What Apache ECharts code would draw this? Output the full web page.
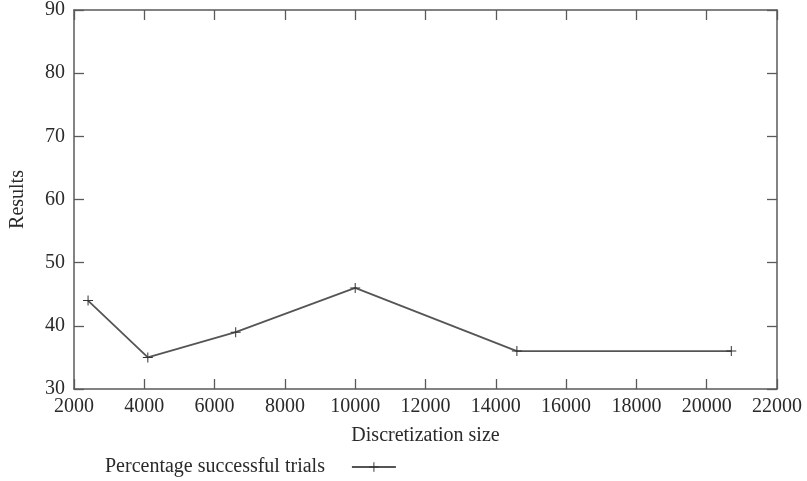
<!DOCTYPE html>
<html>
<head>
<meta charset="utf-8">
<script src="https://cdn.jsdelivr.net/npm/echarts@6/dist/echarts.min.js"></script>
<style>
html,body{margin:0;padding:0;background:#fff;}
#c{width:807px;height:481px;}
</style>
</head>
<body>
<div id="c"></div>
<script>
const seriesName = 'Percentage successful trials';
const xValues = [2400, 4100, 6600, 10000, 14600, 20700];
const yValues = [44, 35, 39, 46, 36, 36];
const xTitle = 'Discretization size';
const yTitle = 'Results';

const data = xValues.map((x, i) => [x, yValues[i]]);
const FONT = '"Liberation Serif", "DejaVu Serif", serif';
const AX = '#5a5a5a';
const TXT = '#2a2a2a';
const plus = 'path://M4.5,0H5.5V4.5H10V5.5H5.5V10H4.5V5.5H0V4.5H4.5Z';

const chart = echarts.init(document.getElementById('c'), null, {renderer: 'canvas'});
const baseX = {
  type: 'value', min: 2000, max: 22000, interval: 2000,
  axisLine: {show: true, onZero: false, lineStyle: {color: AX, width: 1.5}},
  axisTick: {show: true, inside: true, length: 10, lineStyle: {color: AX, width: 1.3}},
  splitLine: {show: false}
};
const baseY = {
  type: 'value', min: 30, max: 90, interval: 10,
  axisLine: {show: true, onZero: false, lineStyle: {color: AX, width: 1.5}},
  axisTick: {show: true, inside: true, length: 10, lineStyle: {color: AX, width: 1.3}},
  splitLine: {show: false}
};
chart.setOption({
  animation: false,
  backgroundColor: '#fff',
  grid: {left: 70, right: 30, top: 9, bottom: 92, containLabel: false},
  xAxis: [
    Object.assign({}, baseX, {
      position: 'bottom',
      name: xTitle, nameLocation: 'middle', nameGap: 37,
      nameTextStyle: {fontFamily: FONT, fontSize: 20, color: TXT},
      axisLabel: {show: true, margin: 8, fontFamily: FONT, fontSize: 20, color: TXT,
        formatter: v => String(v)}
    }),
    Object.assign({}, baseX, {position: 'top', axisLabel: {show: false}})
  ],
  yAxis: [
    Object.assign({}, baseY, {
      position: 'left',
      name: yTitle, nameLocation: 'middle', nameGap: 46, nameRotate: 90,
      nameTextStyle: {fontFamily: FONT, fontSize: 20, color: TXT},
      axisLabel: {show: true, margin: 9, fontFamily: FONT, fontSize: 20, color: TXT,
        formatter: v => String(v)}
    }),
    Object.assign({}, baseY, {position: 'right', axisLabel: {show: false}})
  ],
  legend: {
    show: true, left: 100, top: 452, align: 'right',
    itemWidth: 44, itemHeight: 12, itemGap: 10,
    textStyle: {fontFamily: FONT, fontSize: 20, color: TXT, padding: [0, 22, 0, 0]},
    data: [{name: seriesName}]
  },
  series: [{
    name: seriesName, type: 'line', xAxisIndex: 0, yAxisIndex: 0,
    data: data,
    symbol: plus, symbolSize: 10, showSymbol: true,
    lineStyle: {color: '#555', width: 1.8},
    itemStyle: {color: '#333', borderWidth: 0}
  }]
});
</script>
</body>
</html>
